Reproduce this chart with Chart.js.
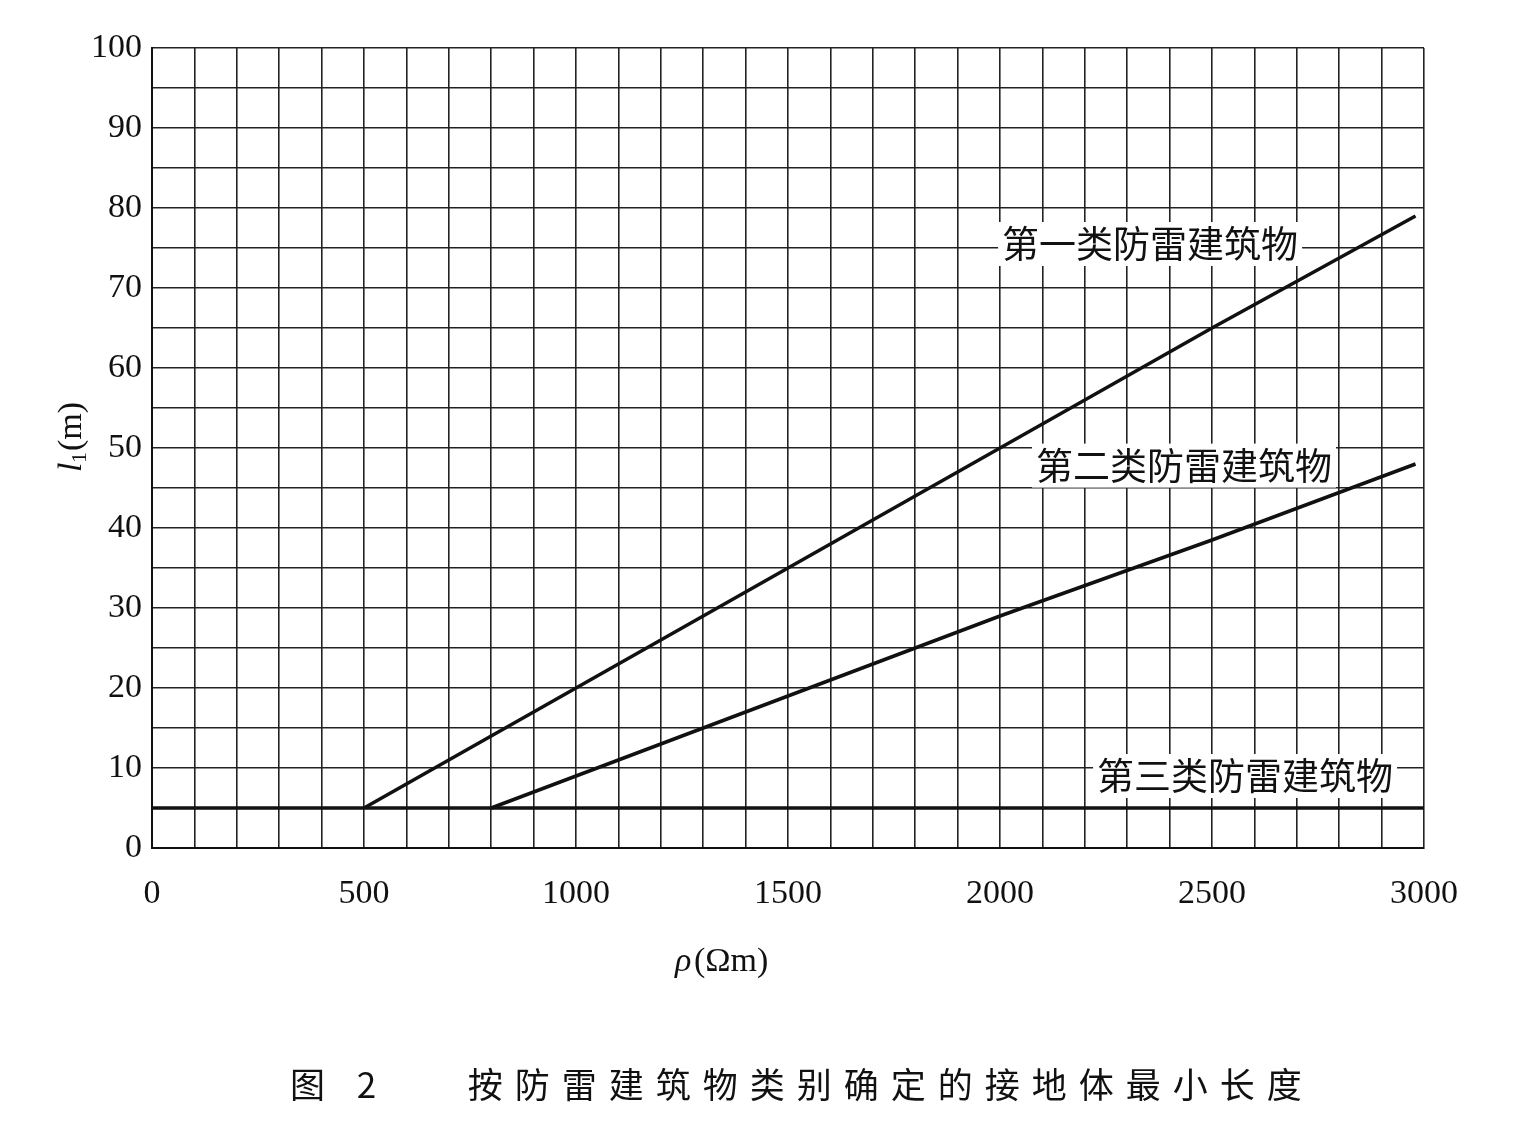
<!DOCTYPE html>
<html>
<head>
<meta charset="utf-8">
<script src="https://cdn.jsdelivr.net/npm/chart.js@4/dist/chart.umd.min.js"></script>
<style>
  body { margin: 0; background: #fff; }
  #wrap { position: relative; width: 1515px; height: 1121px; }
</style>
</head>
<body>
<div id="wrap"><canvas id="myChart"></canvas></div>
<script>
// resistivity rho (Ωm) vs minimum earth electrode length l1 (m)
const class1Rho = [500, 1000, 1500, 2000, 2500, 2980];
const class1Len = [5, 20, 35, 50, 65, 79];
const class2Rho = [800, 1000, 1500, 2000, 2500, 2980];
const class2Len = [5, 9, 19, 29, 38.5, 48];
const class3Rho = [0, 3000];
const class3Len = [5, 5];
const curveNames = ['第一类防雷建筑物', '第二类防雷建筑物', '第三类防雷建筑物'];
const labelAt = [[2354, 75.5], [2434, 47.8], [2578, 9]];
const caption = '图 2    按防雷建筑物类别确定的接地体最小长度';

function pts (xs, ys) {
  return xs.map((x, i) => ({ x: x, y: ys[i] }));
}

const serif = '"Liberation Serif", "DejaVu Serif", serif';
const cjk = '"Noto Sans CJK SC", sans-serif';

const textPlugin = {
  id: 'texts',
  afterDraw (chart) {
    const ctx = chart.ctx;
    const xs = chart.scales.x;
    const ys = chart.scales.y;
    ctx.save();
    // curve labels with white box
    ctx.font = '37px ' + cjk;
    ctx.textBaseline = 'middle';
    ctx.textAlign = 'center';
    curveNames.forEach((name, i) => {
      const px = xs.getPixelForValue(labelAt[i][0]);
      const py = ys.getPixelForValue(labelAt[i][1]);
      const w = ctx.measureText(name).width;
      ctx.fillStyle = '#fff';
      ctx.fillRect(px - w / 2 - 4, py - 22, w + 8, 44);
      ctx.fillStyle = '#111';
      ctx.fillText(name, px, py);
    });
    // x title
    ctx.font = 'italic 34px ' + serif;
    ctx.textAlign = 'left';
    ctx.fillText('ρ', 675, 962);
    ctx.font = '34px ' + serif;
    ctx.fillText('(Ωm)', 694, 962);
    // y title rotated
    ctx.translate(72, 432);
    ctx.rotate(-Math.PI / 2);
    ctx.textAlign = 'left';
    ctx.font = 'italic 34px ' + serif;
    ctx.fillText('l', -40, 0);
    ctx.font = '22px ' + serif;
    ctx.fillText('1', -31, 8);
    ctx.font = '34px ' + serif;
    ctx.fillText('(m)', -19, 0);
    ctx.restore();
    // caption
    ctx.save();
    ctx.font = '35px ' + cjk;
    ctx.fillStyle = '#111';
    ctx.textBaseline = 'middle';
    ctx.letterSpacing = '12px';
    ctx.fillText(caption, 290, 1085);
    ctx.restore();
  }
};

const lineStyle = { borderColor: '#111', borderWidth: 3.5, pointRadius: 0, fill: false, tension: 0 };

const config = {
  type: 'line',
  data: {
    datasets: [
      Object.assign({ data: pts(class1Rho, class1Len) }, lineStyle),
      Object.assign({ data: pts(class2Rho, class2Len) }, lineStyle),
      Object.assign({ data: pts(class3Rho, class3Len) }, lineStyle)
    ]
  },
  options: {
    responsive: false,
    animation: false,
    layout: { padding: { top: 48, right: 91, left: 0, bottom: 0 } },
    plugins: { legend: { display: false }, tooltip: { enabled: false } },
    scales: {
      x: {
        type: 'linear',
        min: 0,
        max: 3000,
        afterFit: (s) => { s.height = 273; },
        border: { color: '#111', width: 2 },
        grid: { color: '#222', lineWidth: 1.6, drawTicks: false },
        ticks: {
          stepSize: 100,
          autoSkip: false,
          maxRotation: 0,
          padding: 26,
          color: '#111',
          font: { family: serif, size: 34 },
          callback: (v) => (v % 500 === 0 ? v : '')
        }
      },
      y: {
        min: 0,
        max: 100,
        afterFit: (s) => { s.width = 152; },
        border: { color: '#111', width: 2 },
        grid: { color: '#222', lineWidth: 1.6, drawTicks: false },
        ticks: {
          stepSize: 5,
          autoSkip: false,
          padding: 10,
          color: '#111',
          font: { family: serif, size: 34 },
          callback: (v) => (v % 10 === 0 ? v : '')
        }
      }
    }
  },
  plugins: [textPlugin]
};

const canvas = document.getElementById('myChart');
canvas.width = 1515;
canvas.height = 1121;
new Chart(canvas, config);
</script>
</body>
</html>
